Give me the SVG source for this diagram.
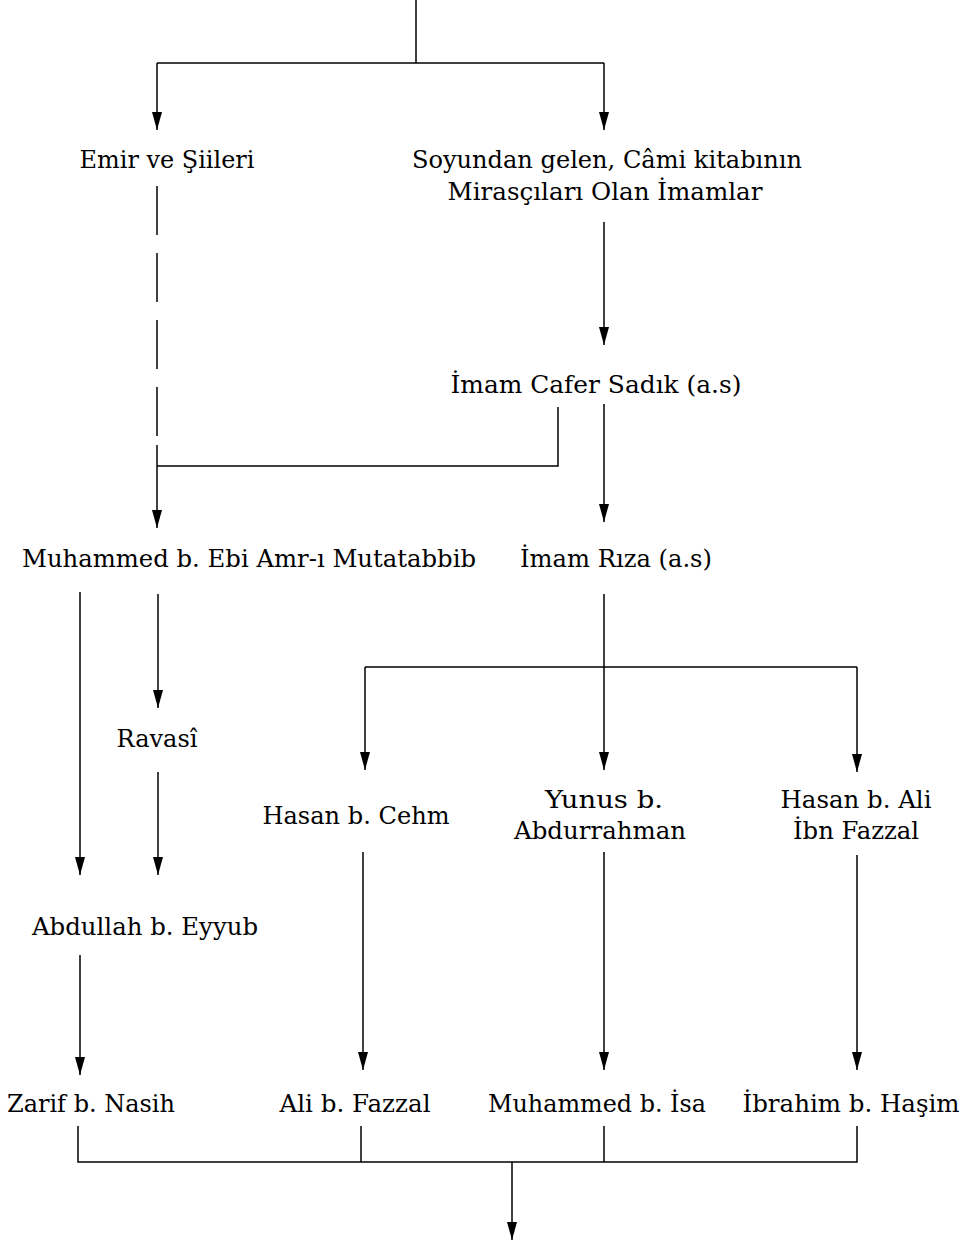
<svg xmlns="http://www.w3.org/2000/svg" width="969" height="1250" viewBox="0 0 969 1250">
<style>
.t{font-family:"DejaVu Serif","Liberation Serif",serif;font-size:25px;fill:#000;text-anchor:middle}
.c{fill:none;stroke:#000;stroke-width:1.5}
.d{stroke-dasharray:49 18}
</style>
<defs>
<marker id="ah" viewBox="0 -5 18 10" refX="18" refY="0" markerWidth="18" markerHeight="10" markerUnits="userSpaceOnUse" orient="auto">
<path d="M0,-5 L18,0 L0,5 z" fill="#000"/>
</marker>
</defs>
<rect width="969" height="1250" fill="#fff"/>
<g id="connectors">
<path class="c" d="M416,0 V63"/>
<path class="c" d="M157,63 H604"/>
<path class="c" d="M157,63 V130" marker-end="url(#ah)"/>
<path class="c" d="M604,63 V130" marker-end="url(#ah)"/>
<path class="c d" d="M157,186 V436"/>
<path class="c" d="M604,222 V345" marker-end="url(#ah)"/>
<path class="c" d="M558,407 V466 H157"/>
<path class="c" d="M157,445 V528" marker-end="url(#ah)"/>
<path class="c" d="M604,404 V522" marker-end="url(#ah)"/>
<path class="c" d="M80,592 V875" marker-end="url(#ah)"/>
<path class="c" d="M158,594 V708" marker-end="url(#ah)"/>
<path class="c" d="M158,772 V875" marker-end="url(#ah)"/>
<path class="c" d="M604,594 V770" marker-end="url(#ah)"/>
<path class="c" d="M365,667 H857"/>
<path class="c" d="M365,667 V770" marker-end="url(#ah)"/>
<path class="c" d="M857,667 V772" marker-end="url(#ah)"/>
<path class="c" d="M80,955 V1075" marker-end="url(#ah)"/>
<path class="c" d="M363,852 V1070" marker-end="url(#ah)"/>
<path class="c" d="M604,852 V1070" marker-end="url(#ah)"/>
<path class="c" d="M857,855 V1070" marker-end="url(#ah)"/>
<path class="c" d="M78,1126 V1162 H857 V1126"/>
<path class="c" d="M361,1126 V1162"/>
<path class="c" d="M604,1126 V1162"/>
<path class="c" d="M512,1162 V1240" marker-end="url(#ah)"/>
</g>
<g id="n_emir"><text class="t" x="167" y="168" textLength="175" lengthAdjust="spacingAndGlyphs">Emir ve Şiileri</text></g>
<g id="n_soyundan"><text class="t" x="607" y="168" textLength="390" lengthAdjust="spacingAndGlyphs">Soyundan gelen, Câmi kitabının</text><text class="t" x="605" y="200" textLength="315" lengthAdjust="spacingAndGlyphs">Mirasçıları Olan İmamlar</text></g>
<g id="n_cafer"><text class="t" x="596" y="393" textLength="291" lengthAdjust="spacingAndGlyphs">İmam Cafer Sadık (a.s)</text></g>
<g id="n_muhammed_ebi"><text class="t" x="249" y="567" textLength="454" lengthAdjust="spacingAndGlyphs">Muhammed b. Ebi Amr-ı Mutatabbib</text></g>
<g id="n_riza"><text class="t" x="616" y="567" textLength="192" lengthAdjust="spacingAndGlyphs">İmam Rıza (a.s)</text></g>
<g id="n_ravasi"><text class="t" x="157" y="747" textLength="81" lengthAdjust="spacingAndGlyphs">Ravasî</text></g>
<g id="n_hasan_cehm"><text class="t" x="356" y="824" textLength="187" lengthAdjust="spacingAndGlyphs">Hasan b. Cehm</text></g>
<g id="n_yunus"><text class="t" x="604" y="808" textLength="118" lengthAdjust="spacingAndGlyphs">Yunus b.</text><text class="t" x="600" y="839" textLength="172" lengthAdjust="spacingAndGlyphs">Abdurrahman</text></g>
<g id="n_hasan_ali"><text class="t" x="856" y="808" textLength="151" lengthAdjust="spacingAndGlyphs">Hasan b. Ali</text><text class="t" x="856" y="839" textLength="126" lengthAdjust="spacingAndGlyphs">İbn Fazzal</text></g>
<g id="n_abdullah"><text class="t" x="145" y="935" textLength="226" lengthAdjust="spacingAndGlyphs">Abdullah b. Eyyub</text></g>
<g id="n_zarif"><text class="t" x="91" y="1112" textLength="168" lengthAdjust="spacingAndGlyphs">Zarif b. Nasih</text></g>
<g id="n_ali"><text class="t" x="355" y="1112" textLength="151" lengthAdjust="spacingAndGlyphs">Ali b. Fazzal</text></g>
<g id="n_muhammed_isa"><text class="t" x="597" y="1112" textLength="218" lengthAdjust="spacingAndGlyphs">Muhammed b. İsa</text></g>
<g id="n_ibrahim"><text class="t" x="851" y="1112" textLength="217" lengthAdjust="spacingAndGlyphs">İbrahim b. Haşim</text></g>
</svg>
